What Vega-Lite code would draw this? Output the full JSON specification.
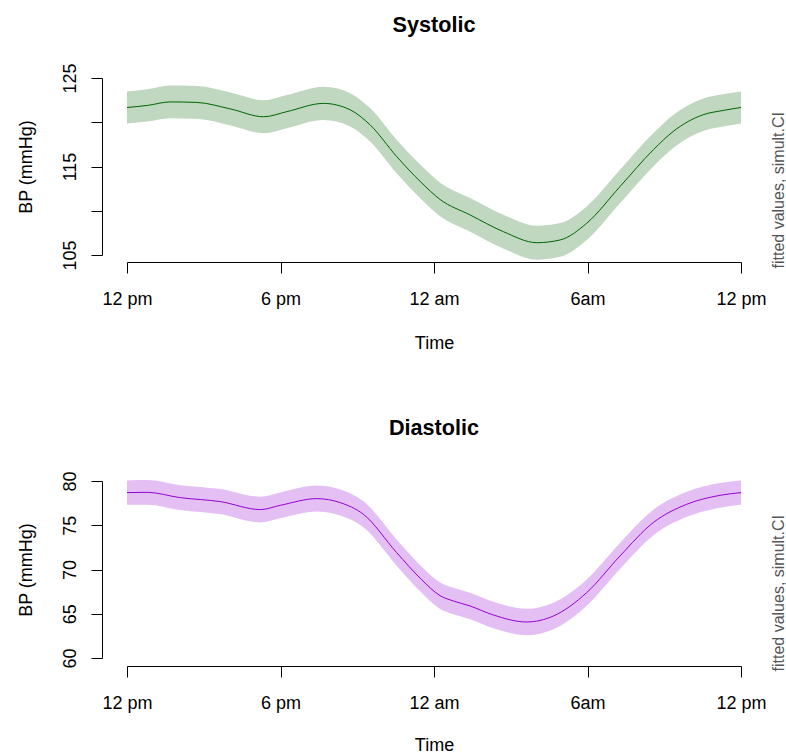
{
  "$schema": "https://vega.github.io/schema/vega-lite/v6.json",
  "padding": {"left": 17, "top": 15, "right": 0, "bottom": 0},
  "bounds": "flush",
  "spacing": 226,
  "config": {
    "font": "Liberation Sans",
    "view": {"stroke": null},
    "axis": {
      "grid": false,
      "domainColor": "black",
      "tickColor": "black",
      "labelColor": "black",
      "titleColor": "black",
      "labelFont": "Liberation Sans",
      "titleFont": "Liberation Sans",
      "labelFontSize": 18,
      "titleFontSize": 18,
      "titleFontWeight": "normal",
      "tickSize": 11,
      "domainWidth": 1,
      "tickWidth": 1,
      "labelOverlap": false,
      "labelFlush": false
    }
  },
  "datasets": {
    "sys": [
      {"t": 0, "fit": 121.67, "lo": 119.87, "hi": 123.47},
      {"t": 0.8, "fit": 121.9, "lo": 120.08, "hi": 123.72},
      {"t": 1.69, "fit": 122.3, "lo": 120.46, "hi": 124.14},
      {"t": 2.73, "fit": 122.24, "lo": 120.39, "hi": 124.09},
      {"t": 4.05, "fit": 121.5, "lo": 119.64, "hi": 123.36},
      {"t": 5.34, "fit": 120.62, "lo": 118.76, "hi": 122.48},
      {"t": 6.25, "fit": 121.2, "lo": 119.33, "hi": 123.07},
      {"t": 7.68, "fit": 122.13, "lo": 120.25, "hi": 124.01},
      {"t": 8.72, "fit": 121.41, "lo": 119.53, "hi": 123.29},
      {"t": 9.5, "fit": 119.71, "lo": 117.82, "hi": 121.6},
      {"t": 10.54, "fit": 116.13, "lo": 114.23, "hi": 118.03},
      {"t": 11.5, "fit": 113.2, "lo": 111.3, "hi": 115.1},
      {"t": 12.24, "fit": 111.27, "lo": 109.37, "hi": 113.17},
      {"t": 13.41, "fit": 109.53, "lo": 107.63, "hi": 111.43},
      {"t": 14.71, "fit": 107.64, "lo": 105.73, "hi": 109.55},
      {"t": 16.02, "fit": 106.39, "lo": 104.47, "hi": 108.31},
      {"t": 16.93, "fit": 106.7, "lo": 104.79, "hi": 108.61},
      {"t": 17.97, "fit": 108.59, "lo": 106.69, "hi": 110.49},
      {"t": 19.27, "fit": 112.73, "lo": 110.84, "hi": 114.62},
      {"t": 20.57, "fit": 116.88, "lo": 115.01, "hi": 118.75},
      {"t": 21.35, "fit": 118.96, "lo": 117.1, "hi": 120.82},
      {"t": 22.52, "fit": 120.85, "lo": 119.01, "hi": 122.69},
      {"t": 23.3, "fit": 121.33, "lo": 119.51, "hi": 123.15},
      {"t": 24, "fit": 121.67, "lo": 119.87, "hi": 123.47}
    ],
    "dia": [
      {"t": 0, "fit": 78.69, "lo": 77.31, "hi": 80.07},
      {"t": 0.78, "fit": 78.72, "lo": 77.33, "hi": 80.11},
      {"t": 2.08, "fit": 78.12, "lo": 76.71, "hi": 79.53},
      {"t": 3.65, "fit": 77.67, "lo": 76.24, "hi": 79.1},
      {"t": 5.21, "fit": 76.77, "lo": 75.32, "hi": 78.22},
      {"t": 5.99, "fit": 77.25, "lo": 75.79, "hi": 78.71},
      {"t": 7.42, "fit": 78.01, "lo": 76.54, "hi": 79.48},
      {"t": 8.33, "fit": 77.56, "lo": 76.09, "hi": 79.03},
      {"t": 9.24, "fit": 76.24, "lo": 74.76, "hi": 77.72},
      {"t": 10.54, "fit": 71.91, "lo": 70.43, "hi": 73.39},
      {"t": 11.5, "fit": 68.9, "lo": 67.42, "hi": 70.38},
      {"t": 12.24, "fit": 67.04, "lo": 65.55, "hi": 68.53},
      {"t": 12.76, "fit": 66.44, "lo": 64.95, "hi": 67.93},
      {"t": 13.41, "fit": 65.88, "lo": 64.39, "hi": 67.37},
      {"t": 14.32, "fit": 64.86, "lo": 63.36, "hi": 66.36},
      {"t": 15.62, "fit": 64.07, "lo": 62.57, "hi": 65.57},
      {"t": 16.67, "fit": 64.75, "lo": 63.25, "hi": 66.25},
      {"t": 17.97, "fit": 67.39, "lo": 65.9, "hi": 68.88},
      {"t": 19.27, "fit": 71.53, "lo": 70.06, "hi": 73.0},
      {"t": 20.57, "fit": 75.3, "lo": 73.85, "hi": 76.75},
      {"t": 21.88, "fit": 77.37, "lo": 75.95, "hi": 78.79},
      {"t": 23.18, "fit": 78.38, "lo": 76.98, "hi": 79.78},
      {"t": 24, "fit": 78.69, "lo": 77.31, "hi": 80.07}
    ]
  },
  "vconcat": [
    {
      "width": 614,
      "height": 177,
      "title": {"text": "Systolic", "fontSize": 21.6, "fontWeight": "bold", "font": "Liberation Sans", "color": "black", "frame": "group", "anchor": "middle", "baseline": "alphabetic", "offset": 9},
      "data": {"name": "sys"},
      "layer": [
        {
          "mark": {"type": "area", "interpolate": "monotone", "color": "#bfd8bf", "opacity": 1},
          "encoding": {
            "x": {"field": "t", "type": "quantitative", "scale": {"domain": [0, 24], "nice": false, "zero": false},
              "axis": {"orient": "bottom", "offset": 7, "values": [0, 6, 12, 18, 24],
                "labelExpr": "datum.value == 0 ? '12 pm' : datum.value == 6 ? '6 pm' : datum.value == 12 ? '12 am' : datum.value == 18 ? '6am' : '12 pm'",
                "labelBaseline": "alphabetic", "labelPadding": 31, "labelAlign": "center",
                "title": "Time", "titleBaseline": "alphabetic", "titleY": 86, "titleX": 307, "titleAlign": "center"}},
            "y": {"field": "lo", "type": "quantitative", "scale": {"domain": [105, 125], "nice": false, "zero": false},
              "axis": {"orient": "left", "offset": 25, "values": [105, 110, 115, 120, 125],
                "labelExpr": "datum.value % 10 == 5 ? datum.label : ''",
                "labelAngle": 270, "labelAlign": "center", "labelBaseline": "alphabetic", "labelPadding": 16,
                "title": "BP (mmHg)", "titleAngle": 270, "titleAlign": "center", "titleBaseline": "alphabetic", "titleX": -71, "titleY": 88.5}},
            "y2": {"field": "hi"}
          }
        },
        {
          "mark": {"type": "line", "interpolate": "monotone", "color": "#006400", "strokeWidth": 1},
          "encoding": {
            "x": {"field": "t", "type": "quantitative"},
            "y": {"field": "fit", "type": "quantitative",
              "axis": {"orient": "right", "domain": false, "ticks": false, "labels": false,
                "title": "fitted values, simult.CI", "titleFontSize": 16, "titleColor": "#555555",
                "titleAngle": 270, "titleAlign": "left", "titleBaseline": "middle", "titleX": 37, "titleY": 190}}
          }
        }
      ],
      "resolve": {"axis": {"y": "independent"}}
    },
    {
      "width": 614,
      "height": 177,
      "title": {"text": "Diastolic", "fontSize": 21.6, "fontWeight": "bold", "font": "Liberation Sans", "color": "black", "frame": "group", "anchor": "middle", "baseline": "alphabetic", "offset": 14},
      "data": {"name": "dia"},
      "layer": [
        {
          "mark": {"type": "area", "interpolate": "monotone", "color": "#e4bff4", "opacity": 1},
          "encoding": {
            "x": {"field": "t", "type": "quantitative", "scale": {"domain": [0, 24], "nice": false, "zero": false},
              "axis": {"orient": "bottom", "offset": 8, "values": [0, 6, 12, 18, 24],
                "labelExpr": "datum.value == 0 ? '12 pm' : datum.value == 6 ? '6 pm' : datum.value == 12 ? '12 am' : datum.value == 18 ? '6am' : '12 pm'",
                "labelBaseline": "alphabetic", "labelPadding": 31, "labelAlign": "center",
                "title": "Time", "titleBaseline": "alphabetic", "titleY": 84, "titleX": 307, "titleAlign": "center"}},
            "y": {"field": "lo", "type": "quantitative", "scale": {"domain": [60, 80], "nice": false, "zero": false},
              "axis": {"orient": "left", "offset": 25, "values": [60, 65, 70, 75, 80],
                "labelAngle": 270, "labelAlign": "center", "labelBaseline": "alphabetic", "labelPadding": 16,
                "title": "BP (mmHg)", "titleAngle": 270, "titleAlign": "center", "titleBaseline": "alphabetic", "titleX": -71, "titleY": 88.5}},
            "y2": {"field": "hi"}
          }
        },
        {
          "mark": {"type": "line", "interpolate": "monotone", "color": "#9400d3", "strokeWidth": 1},
          "encoding": {
            "x": {"field": "t", "type": "quantitative"},
            "y": {"field": "fit", "type": "quantitative",
              "axis": {"orient": "right", "domain": false, "ticks": false, "labels": false,
                "title": "fitted values, simult.CI", "titleFontSize": 16, "titleColor": "#555555",
                "titleAngle": 270, "titleAlign": "left", "titleBaseline": "middle", "titleX": 37, "titleY": 190}}
          }
        }
      ],
      "resolve": {"axis": {"y": "independent"}}
    }
  ]
}
